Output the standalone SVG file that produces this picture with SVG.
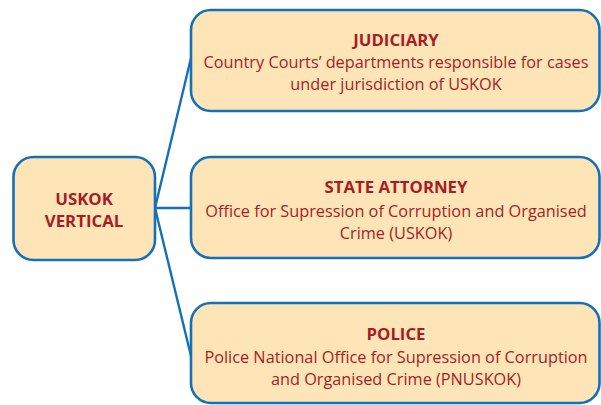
<svg xmlns="http://www.w3.org/2000/svg" width="601" height="405" viewBox="0 0 601 405">
<style>
.box{fill:#fde5b8;stroke:#1670b7;stroke-width:2.6}
.conn{stroke:#1670b7;stroke-width:2.4;fill:none}
text{font-family:"Open Sans","Liberation Sans",sans-serif;fill:#a81c24;text-anchor:middle}
.h{font-weight:bold;font-size:16.8px}
.b{font-size:16.3px}
</style>
<rect width="601" height="405" fill="#ffffff"/>
<g id="connectors">
<line class="conn" x1="155" y1="208" x2="191" y2="58"/>
<line class="conn" x1="155" y1="208" x2="191" y2="208"/>
<line class="conn" x1="155" y1="208" x2="191" y2="356"/>
</g>
<g id="uskok">
<rect class="box" x="13.5" y="157" width="141.5" height="103" rx="20"/>
<text class="h" x="84" y="205">USKOK</text>
<text class="h" x="84" y="227">VERTICAL</text>
</g>
<g id="judiciary">
<rect class="box" x="191" y="10" width="408.5" height="101" rx="20"/>
<text class="h" x="396" y="46">JUDICIARY</text>
<text class="b" x="396" y="68">Country Courts’ departments responsible for cases</text>
<text class="b" x="396" y="90">under jurisdiction of USKOK</text>
</g>
<g id="state-attorney">
<rect class="box" x="191" y="157" width="408.5" height="101" rx="20"/>
<text class="h" x="396" y="193">STATE ATTORNEY</text>
<text class="b" x="396" y="217">Office for Supression of Corruption and Organised</text>
<text class="b" x="396" y="239">Crime (USKOK)</text>
</g>
<g id="police">
<rect class="box" x="191" y="303" width="408.5" height="100" rx="20"/>
<text class="h" x="396" y="340">POLICE</text>
<text class="b" x="396" y="363">Police National Office for Supression of Corruption</text>
<text class="b" x="396" y="385">and Organised Crime (PNUSKOK)</text>
</g>
</svg>
